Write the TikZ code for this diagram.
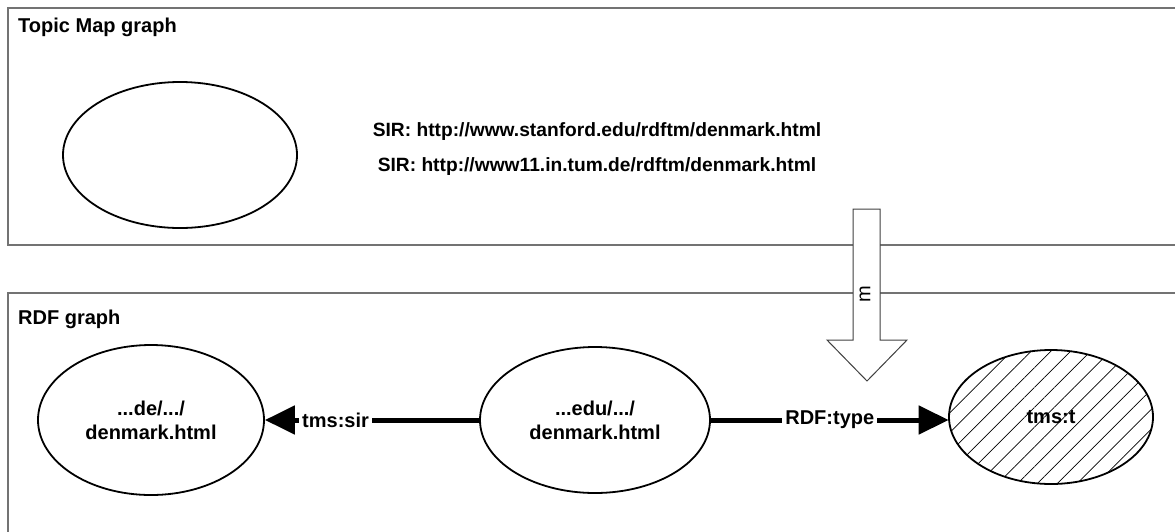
\documentclass[tikz,border=0pt]{standalone}
\usepackage{fontspec}
\setmainfont{Liberation Sans}
\usetikzlibrary{shapes.geometric,arrows.meta,patterns.meta}
\begin{document}
\begin{tikzpicture}[x=1pt,y=-1pt,
  frame/.style={draw=black!55,line width=1.2pt},
  oval/.style={ellipse,draw=black,line width=1.8pt,inner sep=0pt,align=center,
     font=\fontsize{20}{24}\selectfont\bfseries},
  conn/.style={line width=5pt,-{Triangle[length=30pt,width=28pt]}},
  lbl/.style={fill=white,inner sep=3pt,font=\fontsize{20}{24}\selectfont\bfseries},
  title/.style={anchor=west,inner sep=0pt,font=\fontsize{20}{24}\selectfont\bfseries},
  blockarrow/.style={draw=black!75,line width=1pt,fill=white}]
\useasboundingbox (0,0) rectangle (1175,531);
\clip (0,0) rectangle (1175,531);
% frames
\draw[frame] (8,8) rectangle (1190,245);
\draw[frame] (8,293) rectangle (1190,545);
\node[title] (t1) at (18,27) {Topic Map graph};
\node[title] (t2) at (18,319) {RDF graph};
% topic map
\node[oval,minimum width=234pt,minimum height=146pt] (topic) at (180,155) {};
\node[align=center,inner sep=0pt,font=\fontsize{19.2}{35}\selectfont\bfseries] (sir) at (597,149)
  {SIR: http://www.stanford.edu/rdftm/denmark.html\\SIR: http://www11.in.tum.de/rdftm/denmark.html};
% mapping arrow
\draw[blockarrow] (853,209) -- (880,209) -- (880,340) -- (907,340) -- (867,381)
  -- (827,340) -- (853,340) -- cycle;
\node[rotate=90,inner sep=0pt,font=\fontsize{20}{24}\selectfont] (m) at (865,294) {m};
% RDF graph
\node[oval,minimum width=226pt,minimum height=150pt] (de) at (151,420) {...de/.../\\denmark.html};
\node[oval,minimum width=230pt,minimum height=146pt] (edu) at (595,420) {...edu/.../\\denmark.html};
\node[oval,minimum width=204pt,minimum height=134pt,
  pattern={Lines[distance=14pt,angle=45,line width=0.7pt]}] (tmst) at (1051,417) {};
\node[font=\fontsize{20}{24}\selectfont\bfseries] (tmstl) at (tmst) {tms:t};
\draw[conn] (edu.west) -- node[lbl,pos=0.67] {tms:sir} (de.east);
\draw[conn] (edu.east) -- node[lbl,pos=0.5] {RDF:type} (edu.east -| tmst.west);
\end{tikzpicture}
\end{document}
